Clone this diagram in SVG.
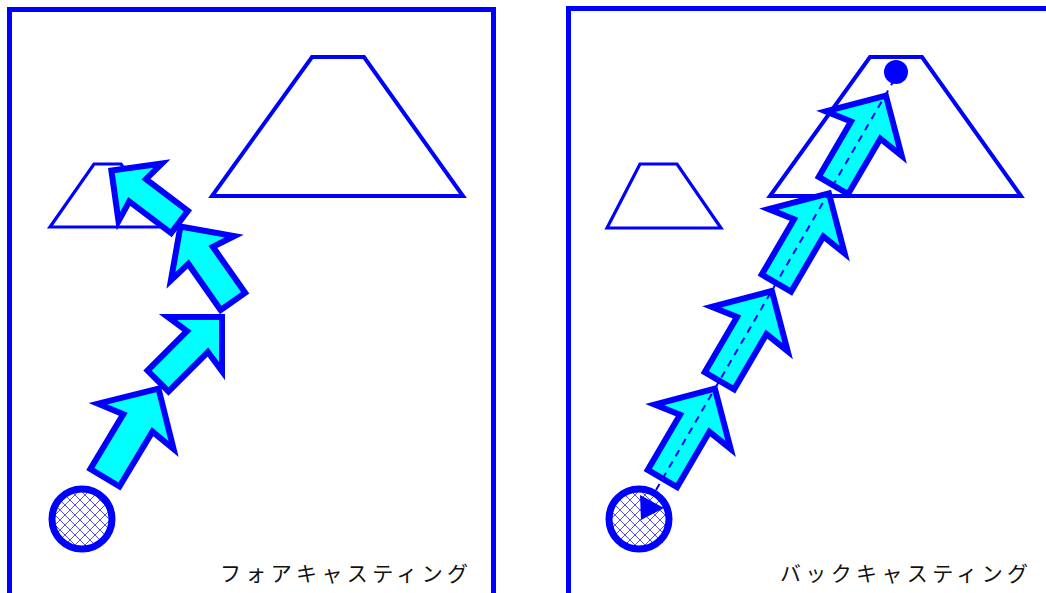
<svg xmlns="http://www.w3.org/2000/svg" xmlns:xlink="http://www.w3.org/1999/xlink" width="1046" height="593" viewBox="0 0 1046 593">
<style>
.frame{fill:none;stroke:#0000ff;stroke-width:5}
.mount{fill:#ffffff;stroke:#0000ff;stroke-width:4;stroke-linejoin:miter}
.mount-s{fill:#ffffff;stroke:#0000ff;stroke-width:3.2}
.arrow{fill:#00ffff;stroke:#0000ff;stroke-linejoin:miter;stroke-miterlimit:6}
.ball{fill:url(#hatch);stroke:#0000ff;stroke-width:7}
.label{font-family:"Noto Sans CJK JP","Noto Sans",sans-serif;font-size:21px;fill:#111111}
.dash{stroke:#0000ff;stroke-width:2;stroke-dasharray:7 6;fill:none}
</style>
<defs>
<pattern id="hatch" patternUnits="userSpaceOnUse" width="10" height="10">
<rect width="10" height="10" fill="#ffffff"/>
<path d="M0,0 L10,10 M10,0 L0,10" stroke="#5050ff" stroke-width="1"/>
</pattern>
<path id="arr" d="M0,0 L-44,-44 L-40,-17 L-104,-17 L-104,17 L-40,17 L-44,44 Z"/>
</defs>
<rect width="1046" height="593" fill="#ffffff"/>
<g id="frame-left"><rect class="frame" x="9.5" y="9.5" width="484" height="620"/></g>
<g id="frame-right"><rect class="frame" x="568.5" y="8.5" width="520" height="620"/></g>
<g id="mountain-big-left"><polygon class="mount" points="312,57 364,57 463,196 212,196"/></g>
<g id="mountain-small-left"><polygon class="mount-s" points="50,227 94,164 121,164 165,227"/></g>
<g id="mountain-big-right"><polygon class="mount" points="870,57 922,57 1021,196 770,196"/></g>
<g id="mountain-small-right"><polygon class="mount-s" points="607,228 640,164 677,164 721,228"/></g>
<g id="start-left"><circle class="ball" cx="82" cy="519" r="30"/></g>
<g id="start-right"><circle class="ball" cx="639" cy="519" r="30"/><polygon points="640,495 664,508 641,520" fill="#0000ff"/></g>
<g id="connectors">
<g id="arrow-l1"><use xlink:href="#arr" class="arrow" stroke-width="6" transform="translate(158.5,388.6) rotate(-59)"/></g>
<g id="arrow-l2"><use xlink:href="#arr" class="arrow" stroke-width="6.9" transform="translate(222,317) rotate(-45) scale(0.87)"/></g>
<g id="arrow-l3"><use xlink:href="#arr" class="arrow" stroke-width="6.8" transform="translate(180.4,226.5) rotate(-125) scale(0.88)"/></g>
<g id="arrow-l4"><use xlink:href="#arr" class="arrow" stroke-width="7.3" transform="translate(111.4,170.6) rotate(-143) scale(0.82)"/></g>
<g id="arrow-r1"><use xlink:href="#arr" class="arrow" stroke-width="6" transform="translate(714.9,388.7) rotate(-59.7)"/></g>
<g id="arrow-r2"><use xlink:href="#arr" class="arrow" stroke-width="6" transform="translate(771.9,291) rotate(-59.7)"/></g>
<g id="arrow-r3"><use xlink:href="#arr" class="arrow" stroke-width="6" transform="translate(828.9,193.3) rotate(-59.7)"/></g>
<g id="arrow-r4"><use xlink:href="#arr" class="arrow" stroke-width="6" transform="translate(885.9,95.6) rotate(-59.7)"/></g>
<line class="dash" x1="656" y1="490" x2="893" y2="82"/>
</g>
<g id="goal-right"><circle cx="896" cy="72" r="12" fill="#0000ff"/></g>
<g id="label-left"><text class="label" x="220" y="581" textLength="248" lengthAdjust="spacing">フォアキャスティング</text></g>
<g id="label-right"><text class="label" x="780" y="581" textLength="248" lengthAdjust="spacing">バックキャスティング</text></g>
</svg>
